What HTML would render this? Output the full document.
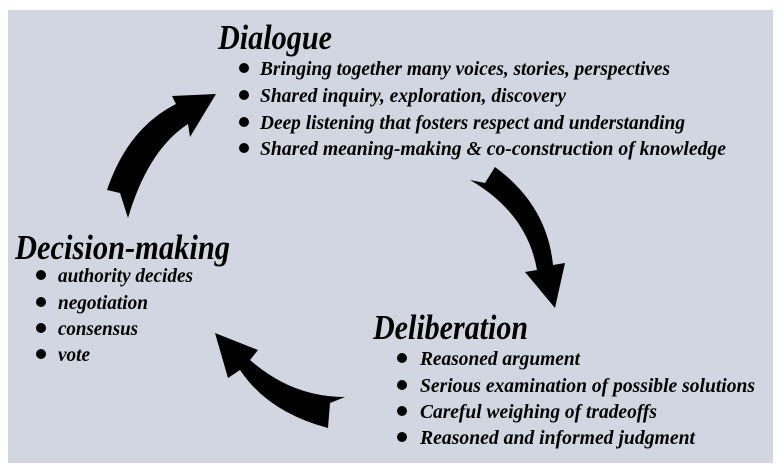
<!DOCTYPE html>
<html><head><meta charset="utf-8"><style>
html,body{margin:0;padding:0;background:#fff;}
svg{display:block;}
text{font-family:"Liberation Serif",serif;font-weight:bold;font-style:italic;fill:#000;}
.t{font-size:35px;}
.i{font-size:20px;}
</style></head><body>
<svg width="781" height="473" viewBox="0 0 781 473" xmlns="http://www.w3.org/2000/svg">
<rect x="8" y="10" width="765" height="453" fill="#d1d6e1"/>
<path d="M128,218 L120,193 L107,190 Q128,128 176,104 L172,96 L216,94 L190,137 L188,124 Q148,150 128,218 Z"/>
<path d="M470,180 L485,183 L495,167 Q547,205 553,265 L565,263 L555,308 L525,272 L537,270 Q527,213 470,180 Z"/>
<path d="M345,397 L330,403 L328,428 Q268,412 240,370 L228,378 L215,333 L258,350 L250,360 Q292,397 345,397 Z"/>

<text class="t" x="218" y="49" textLength="114" lengthAdjust="spacingAndGlyphs">Dialogue</text>
<g fill="#000">
<circle cx="244" cy="68" r="5"/><circle cx="244" cy="95" r="5"/><circle cx="244" cy="122" r="5"/><circle cx="244" cy="148" r="5"/>
<circle cx="41" cy="275" r="5"/><circle cx="41" cy="302" r="5"/><circle cx="41" cy="328" r="5"/><circle cx="41" cy="354" r="5"/>
<circle cx="402" cy="358" r="5"/><circle cx="402" cy="385" r="5"/><circle cx="402" cy="411" r="5"/><circle cx="402" cy="437" r="5"/>
</g>
<text class="i" x="260" y="75" textLength="410" lengthAdjust="spacingAndGlyphs">Bringing together many voices, stories, perspectives</text>
<text class="i" x="260" y="102" textLength="306" lengthAdjust="spacingAndGlyphs">Shared inquiry, exploration, discovery</text>
<text class="i" x="260" y="129" textLength="425" lengthAdjust="spacingAndGlyphs">Deep listening that fosters respect and understanding</text>
<text class="i" x="260" y="155" textLength="466" lengthAdjust="spacingAndGlyphs">Shared meaning-making &amp; co-construction of knowledge</text>

<text class="t" x="15" y="259" textLength="215" lengthAdjust="spacingAndGlyphs">Decision-making</text>
<text class="i" x="58" y="282" textLength="135" lengthAdjust="spacingAndGlyphs">authority decides</text>
<text class="i" x="58" y="309" textLength="90" lengthAdjust="spacingAndGlyphs">negotiation</text>
<text class="i" x="58" y="335" textLength="80" lengthAdjust="spacingAndGlyphs">consensus</text>
<text class="i" x="58" y="361" textLength="32" lengthAdjust="spacingAndGlyphs">vote</text>

<text class="t" x="373" y="339" textLength="155" lengthAdjust="spacingAndGlyphs">Deliberation</text>
<text class="i" x="420" y="365" textLength="160" lengthAdjust="spacingAndGlyphs">Reasoned argument</text>
<text class="i" x="420" y="392" textLength="335" lengthAdjust="spacingAndGlyphs">Serious examination of possible solutions</text>
<text class="i" x="420" y="418" textLength="237" lengthAdjust="spacingAndGlyphs">Careful weighing of tradeoffs</text>
<text class="i" x="420" y="444" textLength="275" lengthAdjust="spacingAndGlyphs">Reasoned and informed judgment</text>
</svg>
</body></html>
